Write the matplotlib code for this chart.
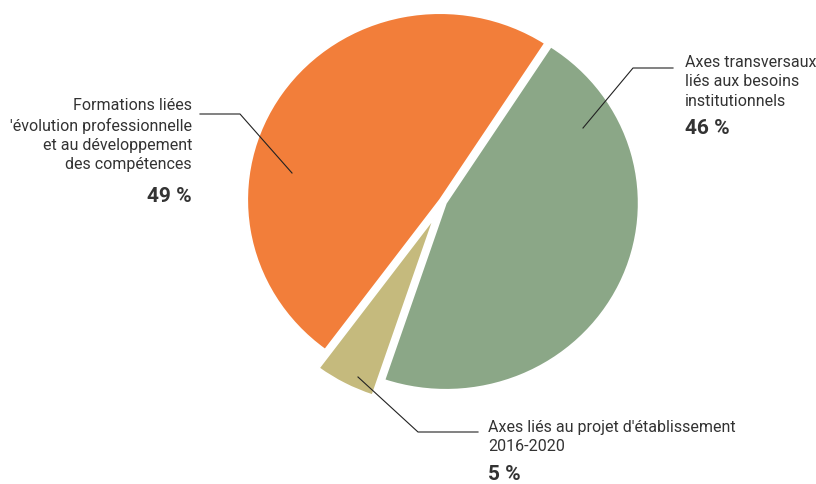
import matplotlib.pyplot as plt

# parts of the training plan (%)
categories = ["Axes transversaux\nliés aux besoins\ninstitutionnels",
              "Axes liés au projet d'établissement\n2016-2020",
              "Formations liées\n'évolution professionnelle\net au développement\ndes compétences"]
shares = [46, 5, 49]
share_labels = ["46 %", "5 %", "49 %"]
colors = ["#8ba787", "#c5ba7d", "#f27e3a"]

W, H = 816, 484
plt.rcParams['font.family'] = ['Roboto', 'DejaVu Sans']

fig = plt.figure(figsize=(W / 100, H / 100), dpi=100)

# pie axes: the reference pie is slightly wider than tall
cx, cy = 442.8, 201.7      # pixel centre (from top-left)
sx, sy = 192.7, 186.6      # pixels per unit radius
pax = fig.add_axes([0, 0, 1, 1])
pax.pie(shares, colors=colors, startangle=57, counterclock=False,
        explode=[0.018, 0.1, 0.018], radius=1,
        wedgeprops=dict(edgecolor='white', linewidth=1.2))
pax.set_aspect('auto')
pax.set_xlim(-cx / sx, (W - cx) / sx)
pax.set_ylim((cy - H) / sy, cy / sy)
pax.axis('off')

# overlay axes in pixel coords for labels
ax = fig.add_axes([0, 0, 1, 1])
ax.set_xlim(0, W)
ax.set_ylim(H, 0)
ax.axis('off')

txt_col = '#333333'
line_kw = dict(color='#222222', lw=0.8)
fs = 11.5
fs_pct = 15
ls = 1.36

# green: top right
ax.plot([673, 633, 583], [68, 68, 128], **line_kw)
ax.text(685, 55, categories[0], ha='left', va='top', fontsize=fs,
        color=txt_col, linespacing=ls)
ax.text(685, 129, share_labels[0], ha='left', va='center', fontsize=fs_pct,
        fontweight='bold', color=txt_col)

# yellow: bottom
ax.plot([478, 418, 358], [432, 432, 377], **line_kw)
ax.text(488, 420, categories[1], ha='left', va='top', fontsize=fs,
        color=txt_col, linespacing=ls)
ax.text(488, 474, share_labels[1], ha='left', va='center', fontsize=fs_pct,
        fontweight='bold', color=txt_col)

# orange: left
ax.plot([200, 240, 292], [114, 114, 173], **line_kw)
ax.text(192, 98, categories[2], ha='right', va='top', fontsize=fs,
        color=txt_col, linespacing=ls)
ax.text(192, 196, share_labels[2], ha='right', va='center', fontsize=fs_pct,
        fontweight='bold', color=txt_col)

fig.savefig('out.png', dpi=100)
